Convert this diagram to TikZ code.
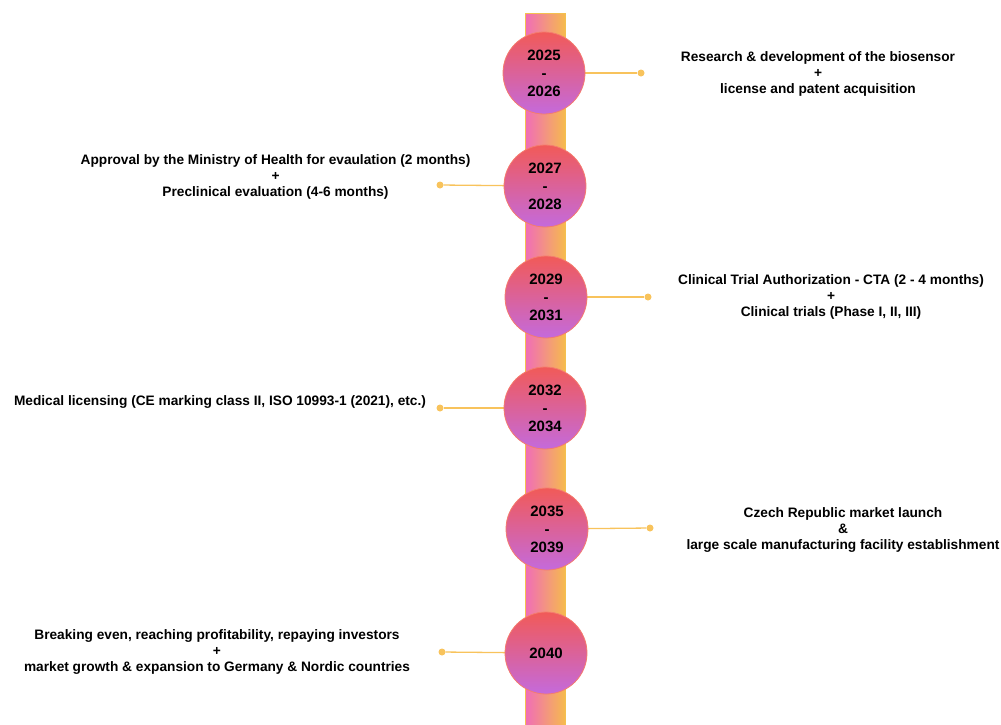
\documentclass[tikz,border=0pt]{standalone}
\usepackage{fontspec}
\setmainfont{Liberation Sans}
\definecolor{barpink}{HTML}{F06CB8}
\definecolor{barorange}{HTML}{F6BA4E}
\definecolor{barline}{HTML}{F4C04F}
\definecolor{ctop}{HTML}{F15A58}
\definecolor{cbot}{HTML}{C46ADC}
\definecolor{cline}{HTML}{F47C6E}
\definecolor{conn}{HTML}{F8C35C}
\begin{document}
\begin{tikzpicture}[x=1pt,y=-1pt,
  year/.style={circle,minimum size=82pt,inner sep=0pt,draw=cline,line width=0.8pt,
    top color=ctop,bottom color=cbot,font=\bfseries\fontsize{15}{18}\selectfont,align=center},
  desc/.style={font=\bfseries\fontsize{13.7}{16.3}\selectfont,align=center,text=black},
  conline/.style={draw=conn,line width=1.3pt},
  dot/.style={circle,fill=conn,inner sep=0pt,minimum size=7pt}]
\useasboundingbox (0,0) rectangle (1001,724);
\path[left color=barpink,right color=barorange] (525,13) rectangle (565,726);
\draw[barline,line width=1pt] (525,726) -- (525,13) -- (565,13) -- (565,726);
% connectors
\node[dot] (d1) at (641,73) {};
\node[dot] (d2) at (440,185) {};
\node[dot] (d3) at (648,297) {};
\node[dot] (d4) at (440,408) {};
\node[dot] (d5) at (650,528) {};
\node[dot] (d6) at (442,652) {};
\coordinate (k1) at (544,73);
\coordinate (k2) at (545,186);
\coordinate (k3) at (546,297);
\coordinate (k4) at (545,408);
\coordinate (k5) at (547,529);
\coordinate (k6) at (546,653);
\path[conline] (k1) -- (d1);
\path[conline] (k2) -- (d2);
\path[conline] (k3) -- (d3);
\path[conline] (k4) -- (d4);
\path[conline] (k5) -- (d5);
\path[conline] (k6) -- (d6);
\node[year] (y1) at (k1) {2025\\-\\2026};
\node[year] (y2) at (k2) {2027\\-\\2028};
\node[year] (y3) at (k3) {2029\\-\\2031};
\node[year] (y4) at (k4) {2032\\-\\2034};
\node[year] (y5) at (k5) {2035\\-\\2039};
\node[year] (y6) at (k6) {2040};
% descriptions
\node[desc] (t1) at (818,74) {Research \& development of the biosensor\\+\\license and patent acquisition};
\node[desc] (t2) at (275.5,177) {Approval by the Ministry of Health for evaulation (2 months)\\+\\Preclinical evaluation (4-6 months)};
\node[desc] (t3) at (831,297) {Clinical Trial Authorization - CTA (2 - 4 months)\\+\\Clinical trials (Phase I, II, III)};
\node[desc] (t4) at (220,402) {Medical licensing (CE marking class II, ISO 10993-1 (2021), etc.)};
\node[desc] (t5) at (843,530) {Czech Republic market launch\\\&\\large scale manufacturing facility establishment};
\node[desc] (t6) at (217,652) {Breaking even, reaching profitability, repaying investors\\+\\market growth \& expansion to Germany \& Nordic countries};
\end{tikzpicture}
\end{document}
